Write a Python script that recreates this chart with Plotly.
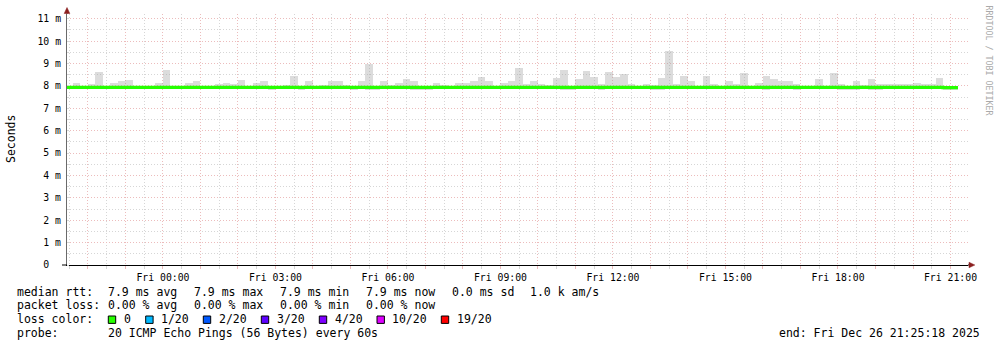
import plotly.graph_objects as go
import pandas as pd

# ---------------- data ----------------
bin_start = "2025-12-25 21:24"
bin_minutes = 12

smoke_high = [
    7.97, 8.11, 7.97, 8.07, 8.60, 7.97, 8.15, 8.20, 8.28, 7.97,
    7.97, 7.97, 8.15, 8.70, 7.97, 7.97, 8.15, 8.24, 7.97, 7.97,
    8.07, 8.15, 8.09, 8.28, 7.97, 8.15, 8.24, 7.97, 7.97, 8.06,
    8.44, 7.97, 8.24, 7.97, 8.06, 8.24, 8.20, 8.06, 7.97, 8.20,
    8.98, 7.97, 8.24, 8.06, 8.15, 8.29, 8.20, 7.97, 7.97, 8.15,
    8.02, 7.97, 8.15, 8.15, 8.24, 8.38, 8.24, 7.97, 8.15, 8.24,
    8.78, 8.10, 8.24, 8.10, 8.06, 8.33, 8.69, 7.97, 8.29, 8.65,
    8.38, 8.10, 8.60, 8.38, 8.51, 8.10, 8.00, 8.10, 8.03, 8.33,
    9.54, 8.10, 8.42, 8.20, 7.97, 8.42, 8.07, 7.97, 8.24, 8.07,
    8.56, 7.97, 8.15, 8.42, 8.29, 8.20, 8.24, 8.07, 7.97, 7.97,
    8.29, 7.97, 8.56, 8.10, 7.97, 8.20, 8.04, 8.29, 8.07, 8.07,
    8.10, 8.07, 8.07, 8.15, 8.07, 8.10, 8.37, 7.97, 7.97,
]

smoke_low = [
    7.89, 7.89, 7.89, 7.89, 7.89, 7.89, 7.89, 7.89, 7.89, 7.89,
    7.89, 7.89, 7.89, 7.89, 7.89, 7.89, 7.89, 7.89, 7.89, 7.89,
    7.89, 7.89, 7.89, 7.89, 7.89, 7.89, 7.89, 7.81, 7.89, 7.89,
    7.89, 7.81, 7.89, 7.89, 7.89, 7.89, 7.89, 7.89, 7.81, 7.89,
    7.81, 7.81, 7.89, 7.89, 7.89, 7.89, 7.81, 7.81, 7.81, 7.89,
    7.89, 7.89, 7.89, 7.89, 7.89, 7.89, 7.89, 7.89, 7.89, 7.89,
    7.89, 7.89, 7.89, 7.89, 7.89, 7.89, 7.81, 7.81, 7.89, 7.89,
    7.89, 7.81, 7.89, 7.89, 7.89, 7.89, 7.89, 7.89, 7.81, 7.81,
    7.89, 7.89, 7.89, 7.89, 7.89, 7.89, 7.89, 7.89, 7.89, 7.89,
    7.89, 7.89, 7.89, 7.81, 7.89, 7.89, 7.89, 7.81, 7.89, 7.89,
    7.89, 7.89, 7.89, 7.81, 7.81, 7.81, 7.89, 7.81, 7.81, 7.89,
    7.89, 7.89, 7.89, 7.89, 7.89, 7.89, 7.89, 7.81, 7.81,
]

median_rtt = [
    7.93, 7.93, 7.93, 7.93, 7.93, 7.93, 7.93, 7.93, 7.93, 7.93,
    7.93, 7.93, 7.93, 7.93, 7.93, 7.93, 7.93, 7.93, 7.93, 7.93,
    7.93, 7.93, 7.93, 7.93, 7.93, 7.93, 7.93, 7.93, 7.93, 7.93,
    7.93, 7.93, 7.93, 7.93, 7.93, 7.93, 7.93, 7.93, 7.93, 7.93,
    7.93, 7.93, 7.93, 7.93, 7.93, 7.93, 7.93, 7.93, 7.93, 7.93,
    7.93, 7.93, 7.93, 7.93, 7.93, 7.93, 7.93, 7.93, 7.93, 7.93,
    7.93, 7.93, 7.93, 7.93, 7.93, 7.93, 7.93, 7.93, 7.93, 7.93,
    7.93, 7.93, 7.93, 7.93, 7.93, 7.93, 7.93, 7.93, 7.93, 7.93,
    7.93, 7.93, 7.93, 7.93, 7.93, 7.93, 7.93, 7.93, 7.93, 7.93,
    7.93, 7.93, 7.93, 7.93, 7.93, 7.93, 7.93, 7.93, 7.93, 7.93,
    7.93, 7.93, 7.93, 7.93, 7.93, 7.93, 7.93, 7.93, 7.93, 7.93,
    7.93, 7.93, 7.93, 7.93, 7.93, 7.93, 7.93, 7.92, 7.92,
]

y_tickvals = [0, 1, 2, 3, 4, 5, 6, 7, 8, 9, 10, 11]
y_ticktext = ["0\u00a0\u00a0", "1 m", "2 m", "3 m", "4 m", "5 m", "6 m", "7 m", "8 m", "9 m", "10 m", "11 m"]
x_range = ["2025-12-25 21:26:30", "2025-12-26 21:28:00"]
y_range = [0, 11.21]

legend_lines = [
    ["median rtt:", "7.9 ms avg", "7.9 ms max", "7.9 ms min", "7.9 ms now", "0.0 ms sd", "1.0 k am/s"],
    ["packet loss:", "0.00 % avg", "0.00 % max", "0.00 % min", "0.00 % now"],
]
loss_labels = ["0", "1/20", "2/20", "3/20", "4/20", "10/20", "19/20"]
loss_colors = ["#26ff00", "#00b8ff", "#0059ff", "#5e00ff", "#7e00ff", "#dd00ff", "#ff0000"]
probe_text = "20 ICMP Echo Pings (56 Bytes) every 60s"
end_text = "end: Fri Dec 26 21:25:18 2025"

# ---------------- layout helpers ----------------
W, H = 997, 347
L, R, T, B = 67, 29, 14, 82
PW = W - L - R
PH = H - T - B


def px(x):
    return (x - L) / PW


def py(y):
    return (H - B - y) / PH


MONO = "DejaVu Sans Mono"
MAJ = "#ecbcbc"
MIN = "#d6d6d6"

n = len(median_rtt)
edges = pd.date_range(bin_start, periods=n + 1, freq=f"{bin_minutes}min")
starts = edges[:-1]
centers = starts + pd.Timedelta(minutes=bin_minutes / 2)

fig = go.Figure()
fig.add_trace(go.Bar(
    x=centers, base=smoke_low,
    y=[h - l for h, l in zip(smoke_high, smoke_low)],
    width=bin_minutes * 60 * 1000,
    marker=dict(color="rgba(160,160,160,0.37)", line=dict(width=0)),
    hoverinfo="skip", showlegend=False,
))
fig.add_trace(go.Scatter(
    x=list(edges), y=median_rtt + [median_rtt[-1]],
    mode="lines", line=dict(color="#26ff00", width=3.3, shape="hv"),
    showlegend=False, hoverinfo="skip",
))

hours = pd.date_range("2025-12-25 22:00", "2025-12-26 21:00", freq="h")
x_ticktext = [h.strftime("%a %H:%M") if h.hour % 3 == 0 else "" for h in hours]

fig.update_layout(
    width=W, height=H,
    margin=dict(l=L, r=R, t=T, b=B, pad=0),
    paper_bgcolor="white", plot_bgcolor="white",
    showlegend=False, bargap=0,
    font=dict(family=MONO, size=10, color="black"),
)
fig.update_xaxes(
    type="date", range=x_range,
    tickvals=list(hours), ticktext=x_ticktext,
    showgrid=True, gridcolor=MAJ, griddash="1px,2px", gridwidth=1,
    ticks="outside", ticklen=3, tickcolor=MAJ,
    tickfont=dict(family=MONO, size=9.8, color="black"),
    showline=True, linecolor="black", linewidth=1,
    zeroline=False,
    minor=dict(dtick=30 * 60 * 1000, tick0="2025-12-25 21:30", showgrid=True,
               gridcolor=MIN, griddash="1px,2px", gridwidth=1,
               ticks="outside", ticklen=3, tickcolor=MIN),
)
fig.update_yaxes(
    range=y_range, tickvals=y_tickvals, ticktext=y_ticktext,
    showgrid=True, gridcolor=MAJ, griddash="1px,2px", gridwidth=1,
    ticks="outside", ticklen=3, tickcolor="white",
    tickfont=dict(family=MONO, size=9.8, color="black"),
    showline=True, linecolor="#6a6a6a", linewidth=1,
    zeroline=False,
    minor=dict(dtick=0.5, showgrid=True, gridcolor=MIN, griddash="1px,2px", gridwidth=1,
               ticks="inside", ticklen=2, tickcolor=MIN),
)

shapes = []
# y axis extension + arrow
shapes.append(dict(type="line", xref="paper", yref="paper", x0=px(67), x1=px(67),
                   y0=py(14), y1=py(12), line=dict(color="#6a6a6a", width=1)))
shapes.append(dict(type="path", xref="paper", yref="paper",
                   path=f"M {px(64.2)},{py(13.5)} L {px(69.8)},{py(13.5)} L {px(67)},{py(7.5)} Z",
                   fillcolor="#8b1f1f", line=dict(color="#8b1f1f", width=0.5)))
# x axis extensions + arrow
shapes.append(dict(type="line", xref="paper", yref="paper", x0=px(968), x1=px(969.5),
                   y0=py(265), y1=py(265), line=dict(color="black", width=1)))
shapes.append(dict(type="line", xref="paper", yref="paper", x0=px(62), x1=px(67),
                   y0=py(265), y1=py(265), line=dict(color="black", width=1)))
shapes.append(dict(type="path", xref="paper", yref="paper",
                   path=f"M {px(969)},{py(262.2)} L {px(969)},{py(267.8)} L {px(974.8)},{py(265)} Z",
                   fillcolor="#8b1f1f", line=dict(color="#8b1f1f", width=0.5)))

annotations = []


def text(x, y, s, size=11.5, anchor="left", color="black", angle=0):
    annotations.append(dict(
        x=px(x), y=py(y), xref="paper", yref="paper", text=s, showarrow=False,
        xanchor=anchor, yanchor="middle", borderpad=0, textangle=angle,
        font=dict(family=MONO, size=size, color=color)))


col_x = [16, 106.6, 192.6, 278.6, 365, 451, 529.3]
line_y = [291.7, 305.3, 319.3, 333.3]
for li, toks in enumerate(legend_lines):
    for ti, tok in enumerate(toks):
        text(col_x[ti], line_y[li], tok)

text(16, line_y[2], "loss color:")
box_x = [108.3, 145.7, 203.3, 261.3, 319.3, 377, 441.3]
lab_x = [122.6, 160, 217.6, 275.6, 333.6, 391.3, 456]
for bx, lx, lab, col in zip(box_x, lab_x, loss_labels, loss_colors):
    shapes.append(dict(type="rect", xref="paper", yref="paper",
                       x0=px(bx), x1=px(bx + 7.4), y0=py(323.4), y1=py(316),
                       fillcolor=col, line=dict(color="black", width=1)))
    text(lx, line_y[2], lab)

text(16, line_y[3], "probe:")
text(col_x[1], line_y[3], probe_text)
text(980.5, line_y[3], end_text, anchor="right")

text(11, 139, "Seconds", size=11.5, anchor="center", angle=-90)
text(988.5, 60, "RRDTOOL / TOBI OETIKER", size=8.3, anchor="center", color="#aaaaaa", angle=90)

fig.update_layout(shapes=shapes, annotations=annotations)
fig.write_html("out.html")
